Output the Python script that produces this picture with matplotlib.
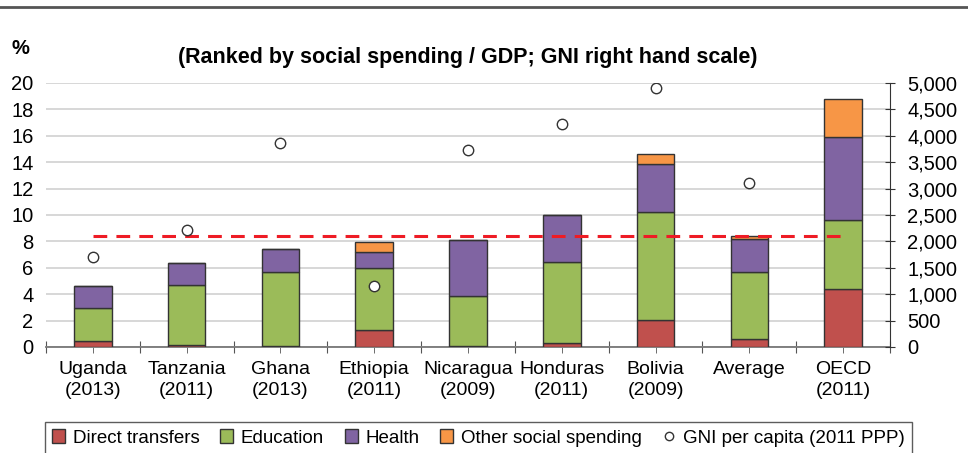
import numpy as np
import matplotlib.pyplot as plt
from matplotlib.lines import Line2D
from matplotlib.patches import Patch
from matplotlib.ticker import FuncFormatter, FixedLocator

plt.rcParams["font.family"] = ["Liberation Sans", "DejaVu Sans"]

categories = ["Uganda\n(2013)", "Tanzania\n(2011)", "Ghana\n(2013)", "Ethiopia\n(2011)",
              "Nicaragua\n(2009)", "Honduras\n(2011)", "Bolivia\n(2009)", "Average",
              "OECD\n(2011)"]
direct_transfers = [0.48, 0.13, 0.08, 1.27, 0.10, 0.33, 2.02, 0.58, 4.39]
education = [2.45, 4.54, 5.58, 4.71, 3.74, 6.13, 8.21, 5.10, 5.23]
health = [1.67, 1.67, 1.79, 1.19, 4.24, 3.54, 3.61, 2.48, 6.27]
other_social = [0.0, 0.0, 0.0, 0.76, 0.0, 0.0, 0.80, 0.24, 2.88]
gni_per_capita = [1711, 2211, 3865, 1160, 3726, 4221, 4905, 3099, np.nan]
average_spending = 8.43

colors = {"red": "#C0504D", "green": "#9BBB59", "purple": "#8064A2", "orange": "#F79646"}

fig = plt.figure(figsize=(9.68, 4.53), dpi=100)
ax = fig.add_axes([0.0475, 0.234, 0.8719, 0.5829])
ax2 = ax.twinx()

x = np.arange(len(categories))
w = 0.4
bottom = np.zeros(len(x))
for vals, c in [(direct_transfers, colors["red"]), (education, colors["green"]),
                (health, colors["purple"]), (other_social, colors["orange"])]:
    vals = np.array(vals)
    ax.bar(x, vals, w, bottom=bottom, color=c, edgecolor="#333333", lw=1, zorder=3)
    bottom += vals

ax.plot([x[0], x[-1]], [average_spending] * 2, color="#EE1C25", lw=2.2,
        dashes=(4.5, 3), zorder=4)

ax2.plot(x, gni_per_capita, ls="none", marker="o", ms=7.5, mfc="white",
         mec="#333333", mew=1, zorder=5)

ax.set_xlim(-0.5, len(x) - 0.5)
ax.set_ylim(0, 20)
ax.set_yticks(np.arange(0, 21, 2))
ax.yaxis.grid(True, color="#D4D4D4", lw=1.3)
ax.set_axisbelow(True)
ax.tick_params(axis="y", length=0, labelsize=14.5, pad=9)
ax.xaxis.set_major_locator(FixedLocator(np.arange(-0.5, len(x), 1.0)))
ax.xaxis.set_minor_locator(FixedLocator(x))
ax.set_xticklabels([])
ax.set_xticklabels(categories, minor=True)
ax.tick_params(axis="x", which="major", direction="inout", length=9, color="#555555")
ax.tick_params(axis="x", which="minor", direction="out", length=4, color="#555555",
               labelsize=14, pad=6)
for lab in ax.get_xticklabels(minor=True):
    lab.set_linespacing(1.3)

for s in ["left", "top", "right"]:
    ax.spines[s].set_visible(False)
ax.spines["bottom"].set_color("#777777")
ax.spines["bottom"].set_linewidth(1.3)

ax2.set_ylim(0, 5000)
ax2.set_yticks(np.arange(0, 5001, 500))
ax2.yaxis.set_major_formatter(FuncFormatter(lambda v, p: f"{int(v):,}"))
ax2.tick_params(axis="y", direction="inout", length=7, labelsize=14.5, pad=9,
                color="#333333")
for s in ["left", "top", "bottom"]:
    ax2.spines[s].set_visible(False)
ax2.spines["right"].set_color("#333333")

fig.text(0.012, 0.893, "%", fontsize=14.5, fontweight="bold", va="center")
fig.text(0.483, 0.874, "(Ranked by social spending / GDP; GNI right hand scale)",
         fontsize=15.5, fontweight="bold", ha="center", va="center")
fig.add_artist(Line2D([0, 1], [0.985, 0.985], color="#555555", lw=2))

handles = [Patch(fc=colors["red"], ec="#333333", lw=1),
           Patch(fc=colors["green"], ec="#333333", lw=1),
           Patch(fc=colors["purple"], ec="#333333", lw=1),
           Patch(fc=colors["orange"], ec="#333333", lw=1),
           Line2D([], [], ls="none", marker="o", ms=6, mfc="white", mec="#333333")]
labels = ["Direct transfers", "Education", "Health", "Other social spending",
          "GNI per capita (2011 PPP)"]
leg = fig.legend(handles, labels, loc="center", bbox_to_anchor=(0.494, 0.033),
                 ncol=5, fontsize=13.5, frameon=True, fancybox=False,
                 handlelength=0.7, handleheight=0.7, handletextpad=0.4,
                 columnspacing=1.1, borderpad=0.4)
leg.get_frame().set_edgecolor("#333333")
leg.get_frame().set_linewidth(1)

fig.savefig("out.png", dpi=100)
